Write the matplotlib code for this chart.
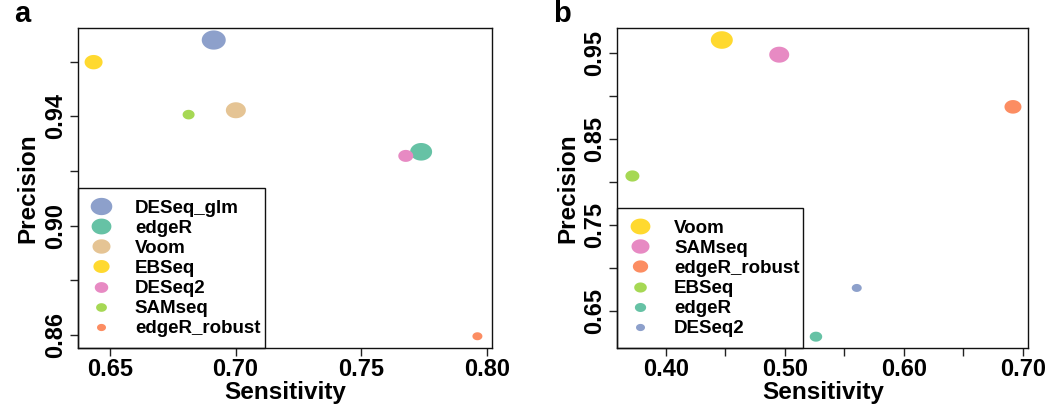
import numpy as np
import matplotlib
matplotlib.use('Agg')
import matplotlib.pyplot as plt
from matplotlib.path import Path
from matplotlib.lines import Line2D
from matplotlib.patches import Rectangle

# ---- data ----
a_methods = ['DESeq_glm', 'edgeR', 'Voom', 'EBSeq', 'DESeq2', 'SAMseq', 'edgeR_robust']
a_sens = [0.6913, 0.7738, 0.7001, 0.6435, 0.7677, 0.6813, 0.7962]
a_prec = [0.9679, 0.9270, 0.9422, 0.9598, 0.9255, 0.9406, 0.8595]

b_methods = ['Voom', 'SAMseq', 'edgeR_robust', 'EBSeq', 'edgeR', 'DESeq2']
b_sens = [0.4469, 0.4952, 0.6918, 0.3717, 0.5261, 0.5604]
b_prec = [0.9655, 0.9484, 0.8876, 0.8070, 0.6197, 0.6765]

a_xticks = [0.65, 0.70, 0.75, 0.80]
a_xlabels = ['0.65', '0.70', '0.75', '0.80']
a_yticks = [0.86, 0.88, 0.90, 0.92, 0.94, 0.96]
a_ylabels = ['0.86', '', '0.90', '', '0.94', '']
b_xticks = [0.40, 0.45, 0.50, 0.55, 0.60, 0.65, 0.70]
b_xlabels = ['0.40', '', '0.50', '', '0.60', '', '0.70']
b_yticks = [0.65, 0.70, 0.75, 0.80, 0.85, 0.90, 0.95]
b_ylabels = ['0.65', '', '0.75', '', '0.85', '', '0.95']

# ---- style ----
a_colors = ['#8DA0CB', '#66C2A5', '#E5C494', '#FFD92F', '#E78AC3', '#A6D854', '#FC8D62']
b_colors = ['#FFD92F', '#E78AC3', '#FC8D62', '#A6D854', '#66C2A5', '#8DA0CB']
a_widths_px = [24, 22, 20, 18, 15, 12, 10]
b_widths_px = [22, 20, 17, 14, 12.5, 10]

plt.rcParams['font.family'] = ['Liberation Sans', 'DejaVu Sans']
plt.rcParams['font.weight'] = 'bold'

DPI = 100
FIG_W, FIG_H = 1064, 405
fig = plt.figure(figsize=(FIG_W / DPI, FIG_H / DPI), dpi=DPI)

# elliptical marker (wider than tall)
t = np.linspace(0, 2 * np.pi, 64)
ell = Path(np.column_stack([1.25 * np.cos(t), np.sin(t)]), closed=True)

px2pt = 72.0 / DPI


def panel(ax, methods, xs, ys, colors, widths, xlim, ylim, xticks, xlabels,
          yticks, ylabels, letter, leg_w_px, leg_h_px, ax_w_px, ax_h_px):
    for m, x, y, c, w in zip(methods, xs, ys, colors, widths):
        ax.scatter([x], [y], s=(w * px2pt) ** 2, marker=ell, color=c,
                   edgecolors='none', zorder=3)
    ax.set_xlim(*xlim)
    ax.set_ylim(*ylim)
    ax.set_xticks(xticks, xlabels)
    ax.set_yticks(yticks, ylabels)
    ax.tick_params(axis='both', direction='out', length=6, width=1,
                   labelsize=17, color='#222222')
    ax.tick_params(axis='y', labelrotation=90, pad=2)
    ax.tick_params(axis='x', pad=1)
    for lab in ax.get_yticklabels():
        lab.set_va('center')
    for sp in ax.spines.values():
        sp.set_linewidth(1.0)
        sp.set_color('#111111')
    ax.set_xlabel('Sensitivity', fontsize=17.5, fontweight='bold', labelpad=0)
    ax.set_ylabel('Precision', fontsize=17.5, fontweight='bold', labelpad=3)
    handles = [Line2D([], [], linestyle='none', marker=ell,
                      markersize=w * px2pt * 0.9,
                      markerfacecolor=c, markeredgecolor='none')
               for c, w in zip(colors, widths)]
    leg = ax.legend(handles, methods, loc='lower left', bbox_to_anchor=(0, 0),
                    borderaxespad=0, frameon=False,
                    prop={'weight': 'bold', 'size': 13.5},
                    handlelength=1.25, handletextpad=1.2, borderpad=0.58,
                    labelspacing=0.155)
    leg.set_zorder(2)
    ax.add_patch(Rectangle((0, 0), leg_w_px / ax_w_px, leg_h_px / ax_h_px,
                           transform=ax.transAxes, facecolor='white',
                           edgecolor='#111111', linewidth=1.0, zorder=1.9,
                           clip_on=False))
    ax.text(-0.155, 1.0, letter, transform=ax.transAxes, fontsize=21,
            fontweight='bold', ha='left', va='bottom')


ax_a = fig.add_axes([78 / FIG_W, 1 - 348 / FIG_H, 414 / FIG_W, 320 / FIG_H])
panel(ax_a, a_methods, a_sens, a_prec, a_colors, a_widths_px,
      (0.6373, 0.802), (0.8552, 0.9723), a_xticks, a_xlabels,
      a_yticks, a_ylabels, 'a', 187, 160, 414, 320)

ax_b = fig.add_axes([617.3 / FIG_W, 1 - 348 / FIG_H, 411 / FIG_W, 320 / FIG_H])
panel(ax_b, b_methods, b_sens, b_prec, b_colors, b_widths_px,
      (0.359, 0.7047), (0.6065, 0.9795), b_xticks, b_xlabels,
      b_yticks, b_ylabels, 'b', 185.7, 140, 411, 320)

fig.savefig('out.png', dpi=DPI)
